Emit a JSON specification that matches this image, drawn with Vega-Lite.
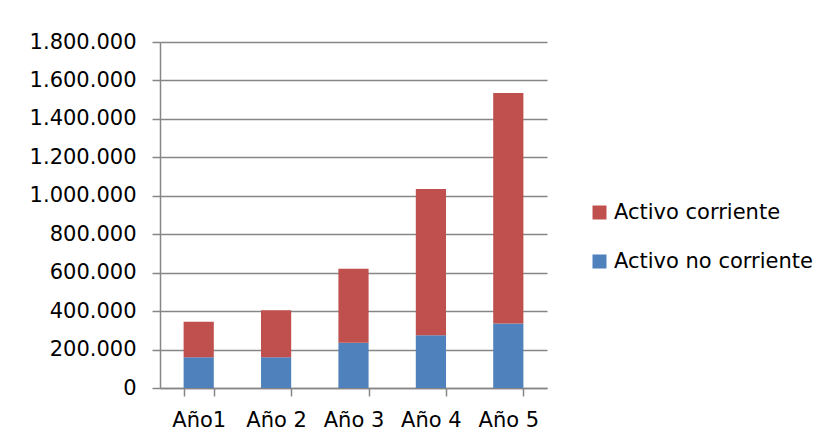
{
  "$schema": "https://vega.github.io/schema/vega-lite/v6.json",
  "width": 387,
  "height": 346,
  "autosize": {"type": "none"},
  "padding": {"left": 160, "top": 42, "right": 286, "bottom": 60},
  "background": "white",
  "config": {
    "locale": {"number": {"decimal": ",", "thousands": ".", "grouping": [3], "currency": ["", " €"]}},
    "view": {"stroke": null},
    "font": "DejaVu Sans",
    "axis": {
      "labelFont": "DejaVu Sans",
      "labelFontSize": 21,
      "labelColor": "#000000",
      "domainColor": "#868686",
      "domainWidth": 1.5,
      "tickColor": "#868686",
      "tickWidth": 1.5,
      "gridColor": "#868686",
      "gridWidth": 1.5,
      "title": null
    },
    "legend": {"padding": 0}
  },
  "data": {
    "values": [
      {"anio": "Año1", "tipo": "Activo no corriente", "valor": 160000},
      {"anio": "Año1", "tipo": "Activo corriente", "valor": 185000},
      {"anio": "Año 2", "tipo": "Activo no corriente", "valor": 160000},
      {"anio": "Año 2", "tipo": "Activo corriente", "valor": 245000},
      {"anio": "Año 3", "tipo": "Activo no corriente", "valor": 235000},
      {"anio": "Año 3", "tipo": "Activo corriente", "valor": 385000},
      {"anio": "Año 4", "tipo": "Activo no corriente", "valor": 275000},
      {"anio": "Año 4", "tipo": "Activo corriente", "valor": 760000},
      {"anio": "Año 5", "tipo": "Activo no corriente", "valor": 335000},
      {"anio": "Año 5", "tipo": "Activo corriente", "valor": 1200000}
    ]
  },
  "mark": {"type": "bar"},
  "encoding": {
    "x": {
      "field": "anio",
      "type": "nominal",
      "sort": null,
      "scale": {"paddingInner": 0.61, "paddingOuter": 0.305},
      "axis": {
        "labelAngle": 0,
        "tickBand": "extent",
        "tickSize": 8,
        "labelPadding": 13,
        "grid": false
      }
    },
    "y": {
      "field": "valor",
      "type": "quantitative",
      "stack": "zero",
      "scale": {"domain": [0, 1800000], "nice": false},
      "axis": {
        "values": [0, 200000, 400000, 600000, 800000, 1000000, 1200000, 1400000, 1600000, 1800000],
        "format": ",d",
        "tickSize": 8,
        "labelPadding": 16,
        "grid": true
      }
    },
    "color": {
      "field": "tipo",
      "type": "nominal",
      "scale": {"domain": ["Activo corriente", "Activo no corriente"], "range": ["#C0504D", "#4F81BD"]},
      "legend": {
        "title": null,
        "orient": "none",
        "legendX": 429,
        "legendY": 160,
        "symbolType": "square",
        "symbolSize": 196,
        "symbolStrokeWidth": 0,
        "labelFont": "DejaVu Sans",
        "labelFontSize": 21,
        "labelColor": "#000000",
        "labelOffset": 4,
        "rowPadding": 27,
        "labelLimit": 400
      }
    },
    "order": {"field": "tipo", "sort": "descending"}
  }
}
